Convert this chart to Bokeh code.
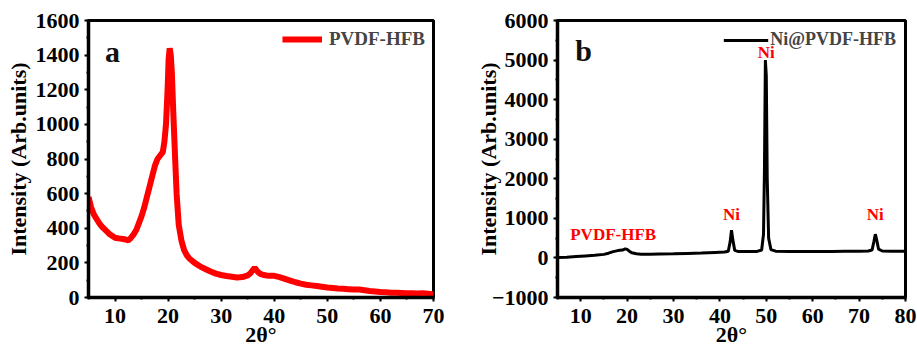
from bokeh.plotting import figure
from bokeh.layouts import row
from bokeh.models import Range1d, Label, Legend, LegendItem, SingleIntervalTicker
from bokeh.embed import file_html
from bokeh.resources import INLINE

# ---- Panel a: PVDF-HFB ----
two_theta_a = [5, 5.5, 6, 6.5, 7, 7.5, 8, 8.5, 9, 9.5, 10, 10.5, 11, 11.5, 12, 12.5, 13,
               13.5, 14, 14.5, 15, 15.5, 16, 16.5, 17, 17.5, 18, 18.5, 19, 19.3, 19.6,
               19.9, 20.1, 20.3, 20.5, 20.7, 21, 21.3, 21.6, 22, 22.5, 23, 23.5, 24, 25,
               26, 27, 28, 29, 30, 31, 32, 33, 34, 35, 35.5, 36, 36.3, 36.6, 37, 37.5, 38,
               39, 40, 41, 42, 43, 44, 45, 46, 47, 48, 49, 50, 51, 52, 53, 54, 55, 56, 57,
               58, 59, 60, 61, 62, 63, 64, 65, 66, 67, 68, 69, 70]
intensity_a = [580, 520, 480, 455, 430, 410, 395, 380, 365, 355, 345, 342, 340, 338, 335, 330, 345,
               365, 390, 430, 470, 520, 580, 640, 700, 760, 800, 820, 840, 900, 1000,
               1200, 1380, 1440, 1400, 1300, 1050, 820, 600, 420, 330, 275, 245, 225, 200,
               180, 165, 150, 138, 130, 124, 120, 116, 118, 128, 140, 160, 172, 160, 145, 135, 130,
               125, 125, 118, 108, 98, 88, 80, 74, 70, 66, 62, 58, 55, 52, 50, 48, 46, 46, 42,
               38, 35, 32, 30, 28, 27, 26, 25, 24, 23, 24, 22, 18]

# ---- Panel b: Ni@PVDF-HFB ----
two_theta_b = [5, 7, 9, 11, 13, 15, 16, 17, 18, 19, 19.6, 20, 20.5, 21, 22, 23, 25, 27, 30,
               33, 36, 39, 41, 41.8, 42.2, 42.5, 42.8, 43.2, 44, 46, 48, 49, 49.4, 49.6,
               49.8, 50.0, 50.2, 50.5, 51, 52, 55, 58, 61, 64, 67, 70, 72, 72.8, 73.2, 73.5,
               73.8, 74.2, 75, 77, 80]
intensity_b = [10, 20, 35, 50, 65, 90, 120, 160, 185, 200, 230, 215, 170, 130, 105, 95, 95, 100, 105,
               115, 125, 140, 150, 170, 400, 700, 450, 190, 160, 160, 165, 200, 600, 2200,
               5000, 4600, 2000, 500, 210, 170, 160, 160, 165, 165, 170, 170, 175, 200, 420, 600,
               450, 220, 175, 170, 170]

x_title = "2θ°"
y_title = "Intensity (Arb.units)"

FONT = "Liberation Serif"


def style(p, yint, ylabel_standoff):
    p.outline_line_color = "black"
    p.outline_line_width = 3
    p.xgrid.visible = False
    p.ygrid.visible = False
    p.xaxis.ticker = SingleIntervalTicker(interval=10, num_minor_ticks=2)
    p.yaxis.ticker = SingleIntervalTicker(interval=yint, num_minor_ticks=2)
    for ax in (p.xaxis[0], p.yaxis[0]):
        ax.axis_line_width = 3.5
        ax.major_tick_line_width = 2
        ax.minor_tick_line_width = 2
        ax.major_tick_out = 4
        ax.major_tick_in = 0
        ax.minor_tick_out = 2
        ax.minor_tick_in = 0
        ax.major_label_text_font = FONT
        ax.major_label_text_font_style = "bold"
        ax.major_label_text_font_size = "22px"
        ax.major_label_text_color = "black"
        ax.axis_label_text_font = FONT
        ax.axis_label_text_font_style = "bold"
        ax.axis_label_text_font_size = "22px"
        ax.axis_label_text_color = "black"
    p.xaxis.major_label_standoff = 7
    p.yaxis.major_label_standoff = 5
    p.xaxis.axis_label_standoff = -4
    p.yaxis.axis_label_standoff = ylabel_standoff
    p.xaxis.axis_label = x_title
    p.yaxis.axis_label = y_title


pa = figure(width=460, height=354, output_backend="svg", toolbar_location=None,
            x_range=Range1d(5, 70), y_range=Range1d(0, 1600),
            min_border_left=88, min_border_right=27, min_border_top=20, min_border_bottom=57)
style(pa, 200, 2)
la = pa.line(two_theta_a, intensity_a, line_color="#ff0000", line_width=6)
lega = Legend(items=[LegendItem(label="PVDF-HFB", renderers=[la])], location="top_right",
              border_line_color=None, background_fill_alpha=0, glyph_width=40,
              label_text_font=FONT, label_text_font_style="bold", label_text_font_size="19px",
              margin=8, padding=10, label_standoff=7)
pa.add_layout(lega)
pa.add_layout(Label(x=9.5, y=1420, text="a", text_font=FONT, text_font_style="bold",
                    text_font_size="30px", text_align="center", text_baseline="middle",
                    text_color="#111111"))

pb = figure(width=457, height=354, output_backend="svg", toolbar_location=None,
            x_range=Range1d(5, 80), y_range=Range1d(-1000, 6000),
            min_border_left=97, min_border_right=12, min_border_top=20, min_border_bottom=57)
style(pb, 1000, -12)
lb = pb.line(two_theta_b, intensity_b, line_color="black", line_width=3)
legb = Legend(items=[LegendItem(label="Ni@PVDF-HFB", renderers=[lb])], location="top_right",
              border_line_color=None, background_fill_alpha=0, glyph_width=45,
              label_text_font=FONT, label_text_font_style="bold", label_text_font_size="18px",
              margin=9, padding=5, label_standoff=2)
pb.add_layout(legb)
pb.add_layout(Label(x=10.6, y=5240, text="b", text_font=FONT, text_font_style="bold",
                    text_font_size="30px", text_align="center", text_baseline="middle",
                    text_color="#111111"))

peak_x = [50.0, 42.5, 73.5, 17.0]
peak_y = [5200, 1100, 1100, 600]
peak_txt = ["Ni", "Ni", "Ni", "PVDF-HFB"]
for x, y, t in zip(peak_x, peak_y, peak_txt):
    pb.add_layout(Label(x=x, y=y, text=t, text_font=FONT, text_font_style="bold",
                        text_font_size="17px", text_align="center", text_baseline="middle",
                        text_color="#ff0000"))

layout = row(pa, pb)
open("out.html", "w").write(file_html(layout, INLINE))
